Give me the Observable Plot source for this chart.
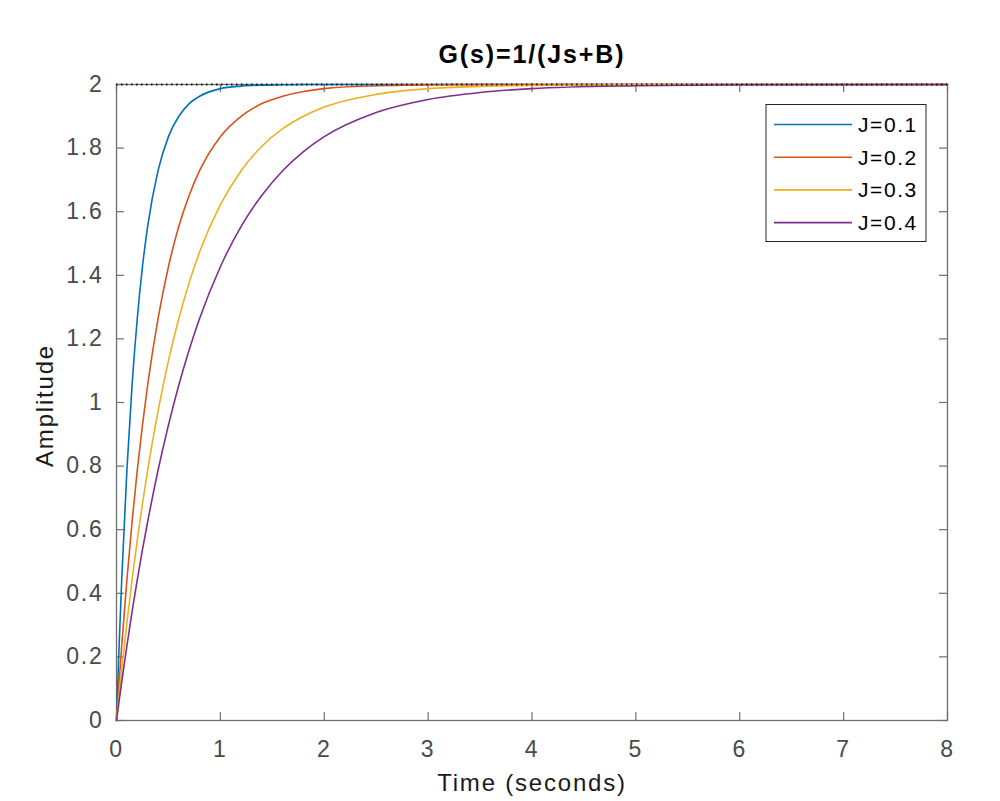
<!DOCTYPE html>
<html>
<head>
<meta charset="utf-8">
<script src="https://cdn.jsdelivr.net/npm/d3@7"></script>
<script src="https://cdn.jsdelivr.net/npm/@observablehq/plot@0.6"></script>
<style>
  html, body { margin: 0; padding: 0; background: #fff; }
  svg text { letter-spacing: 0.075em; }
</style>
</head>
<body>
<div id="chart"></div>
<script>
// ---- data ----
const title = "G(s)=1/(Js+B)";
const xLabel = "Time (seconds)";
const yLabel = "Amplitude";
const seriesNames = ["J=0.1", "J=0.2", "J=0.3", "J=0.4"];
const seriesColors = ["#0072BD", "#D95319", "#EDB120", "#7E2F8E"];
const xTicks = [0, 1, 2, 3, 4, 5, 6, 7, 8];
const yTicks = [0, 0.2, 0.4, 0.6, 0.8, 1, 1.2, 1.4, 1.6, 1.8, 2];
const steadyState = [2];
const times = [0, 0.02, 0.05, 0.1, 0.15, 0.2, 0.25, 0.3, 0.4, 0.5, 0.6, 0.7, 0.8, 1.0, 1.2, 1.4, 1.6, 1.8, 2.0, 2.5, 3.0, 3.5, 4.0, 5.0, 6.0, 8.0];
const ampJ01 = [0, 0.190, 0.442, 0.787, 1.055, 1.264, 1.427, 1.554, 1.729, 1.836, 1.900, 1.940, 1.963, 1.987, 1.995, 1.998, 1.999, 2.000, 2.000, 2.000, 2.000, 2.000, 2.000, 2.000, 2.000, 2.000];
const ampJ02 = [0, 0.098, 0.235, 0.442, 0.625, 0.787, 0.929, 1.055, 1.264, 1.427, 1.554, 1.652, 1.729, 1.836, 1.900, 1.940, 1.963, 1.978, 1.987, 1.996, 1.999, 2.000, 2.000, 2.000, 2.000, 2.000];
const ampJ03 = [0, 0.066, 0.160, 0.307, 0.442, 0.567, 0.682, 0.787, 0.973, 1.131, 1.264, 1.377, 1.473, 1.622, 1.729, 1.806, 1.861, 1.900, 1.929, 1.969, 1.987, 1.994, 1.997, 2.000, 2.000, 2.000];
const ampJ04 = [0, 0.049, 0.121, 0.235, 0.342, 0.442, 0.537, 0.625, 0.787, 0.929, 1.055, 1.166, 1.264, 1.427, 1.554, 1.652, 1.729, 1.789, 1.836, 1.912, 1.953, 1.975, 1.987, 1.996, 1.999, 2.000];

const seriesValues = [ampJ01, ampJ02, ampJ03, ampJ04];
const rows = [];
seriesNames.forEach((name, i) => {
  times.forEach((t, k) => rows.push({series: name, t, y: seriesValues[i][k]}));
});

// ---- layout ----
const W = 1000, H = 801;
const mL = 116, mR = 53, mT = 84, mB = 81;
const frameW = W - mL - mR, frameH = H - mT - mB;
const tickLen = 8;
const axisGrey = "#6e6e6e";

const chart = Plot.plot({
  width: W,
  height: H,
  marginLeft: mL, marginRight: mR, marginTop: mT, marginBottom: mB,
  style: {fontFamily: "'Liberation Sans', Arial, Helvetica, sans-serif", color: "#4a4a4a", background: "#fff"},
  x: {domain: [0, 8], label: null},
  y: {domain: [0, 2], label: null},
  color: {domain: seriesNames, range: seriesColors},
  marks: [
    // inward ticks on all four sides
    Plot.tickY(yTicks, {y: d => d, insetRight: frameW - tickLen, stroke: axisGrey, strokeWidth: 1.2}),
    Plot.tickY(yTicks, {y: d => d, insetLeft: frameW - tickLen, stroke: axisGrey, strokeWidth: 1.2}),
    Plot.tickX(xTicks, {x: d => d, insetTop: frameH - tickLen, stroke: axisGrey, strokeWidth: 1.2}),
    Plot.tickX(xTicks, {x: d => d, insetBottom: frameH - tickLen, stroke: axisGrey, strokeWidth: 1.2}),
    Plot.frame({stroke: axisGrey, strokeWidth: 1.3}),
    Plot.axisX(xTicks, {tickSize: 0, tickPadding: 20, fontSize: 23, tickFormat: d => String(d)}),
    Plot.axisY(yTicks, {tickSize: 0, tickPadding: 13, fontSize: 23, tickFormat: d => String(d)}),
    Plot.line(rows, {x: "t", y: "y", z: "series", stroke: "series", strokeWidth: 1.6, curve: "monotone-x"}),
    Plot.ruleY(steadyState, {stroke: "#000", strokeDasharray: "1.5,3.5", strokeWidth: 1.8, strokeOpacity: 0.85}),
    Plot.text([title], {frameAnchor: "top", lineAnchor: "bottom", textAnchor: "middle", dy: -22, fontSize: 25, fontWeight: "bold", fill: "#000"}),
    Plot.text([xLabel], {frameAnchor: "bottom", lineAnchor: "bottom", textAnchor: "middle", dy: 70, fontSize: 24, fill: "#1a1a1a"}),
    Plot.text([yLabel], {frameAnchor: "left", lineAnchor: "bottom", textAnchor: "middle", rotate: -90, dx: -64, dy: 3, fontSize: 24, fill: "#1a1a1a"})
  ]
});

// ---- legend (inside the axes, top right, as in the reference) ----
const svg = d3.select(chart);
const lg = svg.append("g").attr("class", "legend").attr("text-anchor", "start");
const boxX = 766, boxY = 104.5, boxW = 160, boxH = 137;
lg.append("rect").attr("x", boxX).attr("y", boxY).attr("width", boxW).attr("height", boxH)
  .attr("fill", "#fff").attr("stroke", "#262626").attr("stroke-width", 1);
seriesNames.forEach((name, i) => {
  const yy = boxY + 20 + i * 32.7;
  lg.append("line").attr("x1", boxX + 8).attr("x2", boxX + 86).attr("y1", yy).attr("y2", yy)
    .attr("stroke", seriesColors[i]).attr("stroke-width", 1.6);
  lg.append("text").attr("x", boxX + 92).attr("y", yy).attr("dy", "0.36em")
    .attr("text-anchor", "start")
    .attr("font-size", 21).attr("fill", "#000").text(name);
});

document.getElementById("chart").appendChild(chart);
</script>
</body>
</html>
